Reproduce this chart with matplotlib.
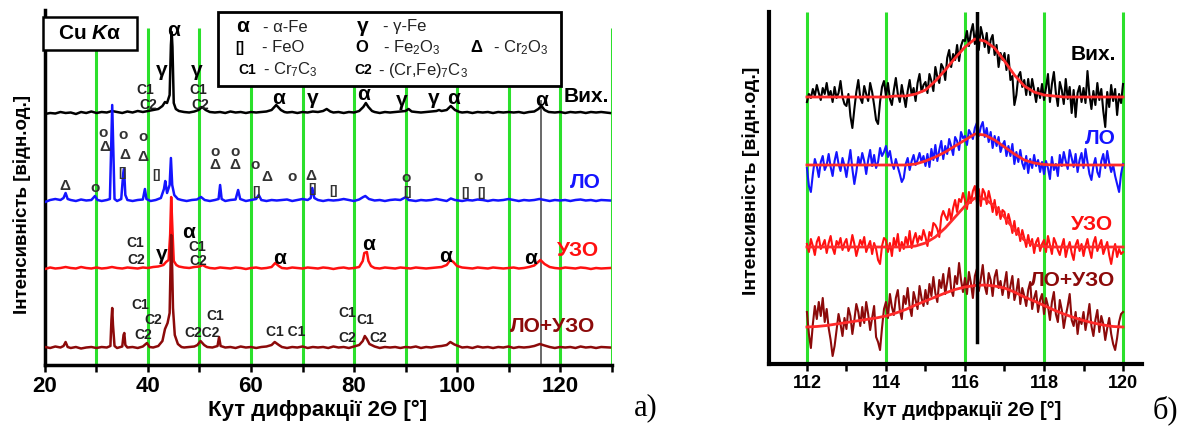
import numpy as np
import matplotlib
matplotlib.use('Agg')
import matplotlib.pyplot as plt
from matplotlib.patches import Rectangle

plt.rcParams['font.family'] = ['Liberation Sans', 'DejaVu Sans']
plt.rcParams['mathtext.fontset'] = 'custom'
plt.rcParams['mathtext.rm'] = 'Liberation Sans'
plt.rcParams['mathtext.it'] = 'Liberation Sans:italic:bold'
plt.rcParams['mathtext.bf'] = 'Liberation Sans:bold'

W, H = 1185, 432
GREEN = '#2be02b'
C_VIH, C_LO, C_UZO, C_LOUZO = '#000000', '#1414ff', '#ff1010', '#8c0a0a'
C_FIT = '#ff2a2a'

# ---------------- panel a: full patterns (2theta, intensity, offset units) ----
vih_a = [(20, 251), (21, 252), (22, 251.5), (23, 253), (24, 252), (25, 252.5), (26, 251),
         (27, 253), (28, 252), (29, 253.5), (30, 252), (31, 253), (32, 252.5), (33, 254),
         (34, 253), (35, 252), (36, 253.5), (37, 252.5), (38, 254), (39, 253), (40, 254),
         (41, 255), (42, 256), (42.8, 259), (43.3, 263), (43.7, 262), (44.2, 270),
         (44.45, 320), (44.6, 333), (44.75, 318), (45.0, 262), (45.4, 256), (46, 254),
         (47, 253), (48, 252.5), (49, 253.5), (49.8, 255), (50.5, 258), (51.2, 255),
         (52, 253), (53, 252.5), (54, 253), (55, 252), (56, 253.5), (57, 252.5), (58, 253),
         (59, 252), (60, 253), (61, 252.5), (62, 253), (63, 253.5), (64, 255), (64.9, 260),
         (65.8, 255), (66.5, 253), (67, 252.5), (68, 253), (69, 252), (70, 253), (71, 252.5),
         (72, 253.5), (73, 253), (74, 254), (74.7, 256), (75.4, 253.5), (76, 252.5), (77, 253),
         (78, 252), (79, 253), (80, 252.5), (81, 254), (81.8, 258), (82.3, 262), (82.8, 258),
         (83.5, 254), (84, 253), (85, 252), (86, 253), (87, 252.5), (88, 253), (89, 253.5),
         (90, 254), (90.6, 256), (91.2, 253.5), (92, 253), (93, 252.5), (94, 253), (95, 253.5),
         (96, 254), (96.5, 255), (97, 254), (98, 255), (98.8, 259), (99.6, 255), (100.5, 253),
         (101, 252.5), (102, 253), (103, 252), (104, 253), (105, 252.5), (106, 253), (107, 252),
         (108, 253), (109, 252.5), (110, 253), (111, 252.5), (112, 253), (113, 252), (114, 253),
         (115, 253.5), (115.8, 256), (116.4, 259), (117, 255), (117.8, 253), (119, 252.5),
         (120, 253), (121, 252), (122, 253), (123, 252.5), (124, 253), (125, 252), (126, 253),
         (127, 252.5), (128, 253), (129.7, 252)]

lo_a = [(20, 163), (21, 165), (22, 166), (23, 165), (23.6, 167), (24.0, 172), (24.4, 166),
        (25, 165), (26, 164), (27, 165.5), (28, 164.5), (29, 165), (29.7, 169), (30.2, 165),
        (31, 164), (32, 165), (32.6, 166), (32.9, 230), (33.05, 260), (33.2, 228), (33.5, 166),
        (34, 164), (34.8, 166), (35.2, 192), (35.35, 196), (35.6, 170), (36, 165), (37, 164),
        (38, 165), (39, 165.5), (39.4, 176), (39.7, 166), (40.5, 164), (41.5, 165), (42.5, 167),
        (43.1, 176), (43.35, 184), (43.7, 172), (44.2, 180), (44.45, 207), (44.7, 180),
        (45.1, 170), (45.8, 166), (46.5, 165), (47.5, 164), (48.5, 165), (49.5, 165.5),
        (50.3, 168), (51, 165), (52, 164), (53, 165), (53.7, 166), (54.0, 180), (54.3, 166),
        (55, 164), (56, 165), (57, 165.5), (57.5, 175), (57.9, 166), (59, 164), (60, 165),
        (61, 166), (61.5, 170), (62, 165), (63, 164), (64, 165), (65, 164.5), (66, 165),
        (67, 165.5), (68, 164), (69, 165), (70, 166), (71, 165), (71.6, 167), (71.9, 177),
        (72.3, 167), (73, 165), (74, 164), (75, 165), (76, 164.5), (77, 165), (78, 166),
        (79, 165), (80, 164), (81, 165.5), (81.8, 168), (82.2, 169), (82.9, 166), (84, 164.5),
        (85, 165), (86, 164), (87, 165), (88, 165.5), (89, 165), (90.1, 168), (90.6, 165),
        (92, 164), (93, 165), (94, 164.5), (95, 165), (96, 166), (97, 165), (98, 164),
        (98.8, 166.5), (99.6, 165), (101, 164), (102, 165), (103, 164.5), (104, 165.5),
        (105, 165), (106, 164), (107, 165), (108, 164.5), (109, 165), (110, 166), (111, 165),
        (112, 164), (113, 165), (114, 164.5), (115, 165), (116, 166), (117, 165), (118, 164),
        (119, 165), (120, 164.5), (121, 165), (122, 164), (123, 165), (124, 165.5),
        (125, 164.5), (126, 165), (127, 164), (128, 165), (129.7, 164.5)]

uzo_a = [(20, 96), (21, 97.5), (22, 96.5), (23, 97), (24, 98), (25, 97), (26, 96.5), (27, 98),
         (28, 97), (29, 96.5), (30, 97.5), (31, 96.5), (32, 97), (33, 98), (34, 97), (35, 96.5),
         (36, 97.5), (37, 97), (38, 96.5), (39, 97.5), (40, 97), (41, 98), (42, 98.5),
         (43, 100), (43.5, 103), (44.0, 105), (44.3, 130), (44.5, 168), (44.75, 135),
         (45.0, 104), (45.5, 100), (46, 98.5), (47, 97.5), (48, 97), (49, 98), (50, 98.5),
         (50.6, 100), (51.3, 98), (52, 97), (53, 96.5), (54, 97.5), (55, 97), (56, 96.5),
         (57, 97.5), (58, 97), (59, 96), (60, 97), (61, 97.5), (62, 96.5), (63, 97), (64, 98),
         (64.7, 102), (65.4, 99), (66, 97), (67, 96.5), (68, 97.5), (69, 97), (70, 96.5),
         (71, 97.5), (72, 97), (73, 96.5), (74, 97.5), (75, 97), (76, 96), (77, 97), (78, 97.5),
         (79, 96.5), (80, 97), (81, 98), (81.7, 104), (82.0, 112), (82.5, 113), (82.8, 104),
         (83.3, 99), (84, 97), (85, 96.5), (86, 97.5), (87, 97), (88, 96.5), (89, 97.5),
         (90, 97), (91, 96.5), (92, 97.5), (93, 97), (94, 96.5), (95, 97), (96, 97.5), (97, 98),
         (98, 100), (98.7, 105), (99.3, 103), (100, 99), (101, 97.5), (102, 97), (103, 96.5),
         (104, 97.5), (105, 97), (106, 96.5), (107, 97.5), (108, 97), (109, 96.5), (110, 97),
         (111, 97.5), (112, 96.5), (113, 97), (114, 98), (115, 99.5), (116.2, 105), (117, 101),
         (118, 98), (119, 97), (120, 96.5), (121, 97.5), (122, 97), (123, 96.5), (124, 97.5),
         (125, 97), (126, 96), (127, 97), (128, 96.5), (129.7, 97)]

louzo_a = [(20, 18), (21, 17), (22, 18.5), (23, 17.5), (23.6, 19), (24.0, 23), (24.4, 18),
           (25, 17), (26, 18), (27, 16.5), (28, 17.5), (29, 18), (30, 17), (31, 18), (32, 17.5),
           (32.7, 19), (32.9, 45), (33.05, 57), (33.2, 40), (33.5, 19), (34, 17), (35, 18.5),
           (35.25, 30), (35.4, 32), (35.6, 20), (36, 17.5), (37, 18), (38, 17), (39, 18.5),
           (39.8, 22), (40.3, 18), (41, 17.5), (42, 19), (42.8, 24), (43.3, 36), (43.8, 42),
           (44.2, 52), (44.35, 90), (44.5, 130), (44.7, 95), (44.85, 57), (45.2, 30),
           (45.8, 21), (46.5, 18), (47, 17.5), (48, 18), (49, 18.5), (49.6, 20), (50.2, 24),
           (50.9, 20), (51.5, 18), (52.5, 17.5), (53.5, 19), (53.8, 28), (54.1, 19), (55, 17.5),
           (56, 18), (57, 17), (58, 18.5), (59, 17.5), (60, 18), (61, 17), (62, 18), (63, 18.5),
           (64, 20), (64.6, 23), (65.4, 20), (66, 18), (67, 17), (68, 18), (69, 17.5),
           (70, 18.5), (71, 17), (72, 18), (73, 17.5), (74, 18), (75, 17), (76, 18.5),
           (77, 17.5), (78, 18), (79, 17), (80, 18.5), (81, 20), (81.7, 24), (82.1, 29),
           (82.5, 26), (83, 21), (84, 18.5), (85, 17), (86, 18), (87, 17.5), (88, 18), (89, 17),
           (90, 18), (91, 17.5), (92, 18.5), (93, 17), (94, 18), (95, 17.5), (96, 18.5),
           (97, 19), (98, 20), (98.7, 23), (99.5, 20.5), (100.5, 18.5), (101, 17.5), (102, 18),
           (103, 17), (104, 18.5), (105, 17.5), (106, 18), (107, 17), (108, 18), (109, 17.5),
           (110, 18.5), (111, 17), (112, 18), (113, 17.5), (114, 18), (115, 19), (116.1, 21),
           (117, 19.5), (118, 18), (119, 17), (120, 18), (121, 17.5), (122, 18), (123, 17),
           (124, 18.5), (125, 17.5), (126, 18), (127, 17), (128, 18), (129.7, 17.5)]

# phase marks over the peaks: (text, 2theta, height)
marks_vih = [('α', 45.0, 335), ('γ', 42.7, 295), ('γ', 49.5, 295), ('α', 65.3, 267),
             ('γ', 72.0, 266), ('α', 81.8, 271), ('γ', 89.3, 264), ('γ', 95.5, 266),
             ('α', 99.4, 266), ('α', 116.5, 264)]
carb_vih = [('C1', 39.4, 275), ('C2', 40.0, 260), ('C1', 49.7, 275), ('C2', 50.1, 260)]
marks_lo = [('Δ', 23.9, 179), ('o', 29.7, 177), ('o', 31.3, 232), ('Δ', 31.7, 218),
            ('o', 35.2, 230), ('Δ', 35.5, 210), ('[]', 35.1, 192), ('o', 39.1, 228),
            ('Δ', 39.1, 208), ('[]', 41.6, 190), ('o', 53.0, 213), ('Δ', 53.0, 200),
            ('o', 56.9, 213), ('Δ', 56.9, 200), ('o', 60.8, 200), ('Δ', 63.0, 188),
            ('[]', 61.0, 173), ('o', 67.9, 188), ('Δ', 71.6, 189), ('[]', 72.0, 176),
            ('[]', 76.0, 174), ('o', 90.1, 187), ('[]', 90.4, 173), ('[]', 101.7, 172),
            ('o', 104.1, 188), ('[]', 104.8, 172)]
marks_uzo = [('γ', 42.7, 110), ('α', 47.8, 133), ('α', 65.6, 107), ('α', 82.8, 120),
             ('α', 97.7, 108), ('α', 114.2, 107)]
carb_uzo = [('C1', 37.5, 122), ('C2', 37.8, 105), ('C1', 49.5, 118), ('C2', 49.8, 104)]
carb_louzo = [('C1', 38.4, 60), ('C2', 41.0, 45), ('C2', 39.1, 30), ('C2C2', 50.4, 32),
              ('C1', 53.0, 49), ('C1 C1', 66.8, 33), ('C1', 78.6, 52), ('C1', 82.1, 45),
              ('C2', 78.6, 27), ('C2', 84.7, 27)]

# ---------------- panel b: 112-120 deg region ----------------------------------
step_b = 0.05
vih_b = [262, 270, 266, 275, 268, 279, 271, 264, 276, 270, 281, 268, 273, 262, 277, 266, 271, 283, 267, 260,
         258, 270, 248, 236, 255, 272, 284, 266, 261, 278, 270, 263, 281, 272, 259, 244, 240, 262, 277, 283,
         268, 281, 265, 259, 274, 286, 270, 262, 279, 268, 257, 273, 284, 269, 276, 263, 281, 290, 272, 279,
         282, 271, 290, 283, 273, 297, 287, 281, 300, 296, 284, 306, 314, 297, 310, 304, 319, 303, 318, 324,
         323, 333, 318, 332, 340, 320, 334, 314, 337, 328, 317, 331, 311, 324, 329, 309, 319, 297, 311, 304,
         311, 294, 309, 284, 288, 259, 269, 288, 292, 277, 284, 269, 285, 269, 285, 274, 262, 276, 266, 280,
         264, 276, 290, 262, 280, 292, 271, 258, 282, 274, 260, 285, 265, 277, 251, 274, 247, 271, 278, 262,
         276, 261, 293, 269, 255, 273, 259, 281, 264, 275, 253, 237, 272, 257, 279, 263, 275, 249, 270, 261,
         280]
lo_b = [196, 178, 172, 190, 205, 198, 187, 202, 208, 194, 199, 210, 197, 188, 203, 212, 200, 193, 206, 198,
        187, 201, 214, 195, 180, 192, 207, 199, 211, 203, 190, 204, 214, 198, 209, 196, 202, 216, 208, 212,
        218, 207, 213, 201, 195, 205, 197, 190, 182, 186, 200, 206, 194, 203, 209, 199, 204, 211, 202, 208,
        198, 210, 197, 215, 204, 219, 203, 214, 223, 205, 218, 210, 225, 218, 209, 227, 223, 214, 232, 226,
        228, 219, 234, 230, 225, 236, 241, 228, 237, 242, 227, 236, 222, 232, 216, 228, 218, 227, 212, 219,
        223, 208, 218, 208, 220, 200, 212, 202, 214, 201, 195, 208, 191, 205, 196, 209, 198, 204, 192, 202,
        190, 203, 196, 185, 207, 194, 200, 188, 209, 198, 212, 203, 195, 214, 206, 197, 210, 192, 204, 211,
        196, 215, 202, 190, 184, 198, 206, 192, 187, 203, 210, 196, 213, 201, 192, 199, 188, 180, 172, 190,
        200]
uzo_b = [120, 112, 125, 118, 109, 122, 127, 115, 119, 124, 111, 121, 128, 116, 110, 123, 119, 126, 114, 121,
         125, 113, 118, 129, 120, 108, 116, 124, 119, 127, 112, 118, 123, 110, 121, 115, 104, 100, 118, 126,
         124, 112, 121, 108, 126, 117, 130, 113, 122, 115, 127, 119, 133, 116, 125, 131, 121, 128, 124, 134,
         127, 118, 132, 128, 141, 139, 135, 127, 147, 153, 148, 144, 155, 144, 156, 164, 152, 165, 162, 171,
         164, 155, 172, 161, 173, 178, 162, 175, 158, 175, 171, 160, 173, 164, 152, 164, 149, 157, 145, 154,
         152, 140, 150, 142, 131, 143, 129, 136, 123, 134, 126, 117, 129, 118, 125, 111, 122, 126, 113, 120,
         124, 112, 128, 119, 110, 126, 121, 114, 109, 118, 125, 107, 116, 122, 111, 104, 119, 124, 113, 120,
         108, 118, 125, 114, 106, 121, 127, 113, 119, 124, 110, 116, 122, 109, 100, 112, 120, 107, 115, 110,
         112]
louzo_b = [52, 30, 16, 40, 58, 45, 62, 48, 66, 42, 55, 36, 24, 8, 18, 34, 50, 40, 28, 46,
           35, 56, 48, 30, 44, 60, 52, 38, 57, 41, 62, 50, 34, 46, 58, 27, 22, 14, 36, 55,
           62, 46, 70, 57, 49, 66, 74, 54, 45, 68, 60, 76, 57, 48, 72, 64, 55, 78, 66, 58,
           74, 60, 80, 68, 87, 71, 62, 84, 76, 90, 70, 82, 96, 75, 68, 88, 80, 101, 84, 72,
           86, 70, 92, 81, 66, 88, 95, 73, 85, 99, 78, 70, 91, 84, 68, 87, 94, 76, 83, 69,
           80, 92, 66, 78, 88, 64, 72, 85, 60, 76, 68, 58, 74, 82, 55, 66, 73, 52, 64, 70,
           50, 66, 58, 44, 62, 72, 50, 42, 64, 54, 36, 48, 58, 70, 44, 38, 52, 30, 46, 40,
           52, 34, 46, 60, 38, 28, 44, 54, 32, 48, 40, 24, 36, 46, 30, 20, 14, 26, 42, 50,
           52]

# fitted profiles, 0.25 deg step
step_fit = 0.25
vih_fit = [267, 267, 267, 267, 267, 267, 267, 267, 267, 268, 268, 270, 274, 283, 294, 306, 317,
           325, 323, 316, 303, 289, 278, 272, 269, 268, 267, 267, 267, 267, 267, 267, 267]
lo_fit = [199] * 11 + [200, 203, 207, 212, 218, 224, 230, 229, 224, 217, 210, 204, 201, 199.5] + [199] * 8
uzo_fit = [117] * 11 + [118, 121, 127, 136, 147, 158, 166, 165, 158, 147, 134, 124, 119, 117.5] + [117] * 8
louzo_fit = [37, 37.5, 38.5, 40, 41.5, 43, 44.5, 46, 48, 51, 54.5, 59, 63, 67, 71, 74.5, 77, 78.5,
             79, 78, 76, 72, 67, 63, 58.5, 54, 50, 46.5, 43.5, 41, 39, 37.5, 37]

fig = plt.figure(figsize=(W / 100, H / 100), dpi=100)

# ── a) ─────────────────────────────────────────────
ax = fig.add_axes([45 / W, 67 / H, 566.5 / W, 355 / H])
ax.set_xlim(20, 130)
ax.set_ylim(0, 355)
ax.vlines(np.arange(30, 131, 10), 0, 337, color=GREEN, lw=2.2, zorder=1)
ax.vlines(116.25, 0, 265, color='#404040', lw=1.1, zorder=1.5)

for z, (pts, col) in enumerate([(vih_a, C_VIH), (lo_a, C_LO), (uzo_a, C_UZO), (louzo_a, C_LOUZO)]):
    xy = np.array(pts, dtype=float)
    ax.plot(xy[:, 0], xy[:, 1], color=col, lw=1.8, zorder=2 + z, solid_joinstyle='round')

for t, x, y in marks_vih + marks_uzo:
    ax.text(x, y, t, fontsize=15, fontweight='bold', ha='center', va='center', zorder=7)
for t, x, y in carb_vih + carb_uzo + carb_louzo:
    ax.text(x, y, t, fontsize=10, fontweight='bold', ha='center', va='center',
            color='#222222', zorder=7)
for t, x, y in marks_lo:
    fs = 9 if t == '[]' else 11
    ax.text(x, y, t, fontsize=fs, fontweight='bold', ha='center', va='center',
            color='#333333', zorder=7)

for t, x, y, col in [('Вих.', 125.2, 268, C_VIH), ('ЛО', 125.0, 182, C_LO),
                     ('УЗО', 123.5, 115, C_UZO), ('ЛО+УЗО', 118.6, 38, C_LOUZO)]:
    ax.text(x, y, t, fontsize=15, fontweight='bold', color=col, ha='center', va='center',
            zorder=7, clip_on=False)

# Cu K-alpha box and phase legend
ax.add_patch(Rectangle((19.6, 315), 18.3, 33, facecolor='white', edgecolor='black',
                       lw=1.8, zorder=8, clip_on=False))
ax.text(28.75, 331.5, 'Cu $K$α', fontsize=15, fontweight='bold', ha='center', va='center',
        zorder=9)
ax.add_patch(Rectangle((53.6, 279), 66.6, 74, facecolor='white', edgecolor='black',
                       lw=2, zorder=8, clip_on=False))
leg_sym = [('α', 58.3, 338, 15), ('γ', 81.6, 338, 15), ('[]', 57.9, 317, 10),
           ('O', 81.6, 317, 12), ('Δ', 103.7, 317, 12), ('C1', 59.2, 295, 10),
           ('C2', 81.7, 295, 10)]
leg_txt = [('- α-Fe', 62.3, 338), ('- γ-Fe', 85.6, 338), ('- FeO', 62.1, 317),
           ('- Fe$_2$O$_3$', 85.6, 317), ('- Cr$_2$O$_3$', 107.0, 317),
           ('- Cr$_7$C$_3$', 62.3, 295), ('- (Cr,Fe)$_7$C$_3$', 84.7, 295)]
for t, x, y, fs in leg_sym:
    ax.text(x, y, t, fontsize=fs, fontweight='bold', ha='center', va='center', zorder=9)
for t, x, y in leg_txt:
    ax.text(x, y, t, fontsize=12, ha='left', va='center', color='#222222', zorder=9)

ax.set_xticks(np.arange(20, 121, 20))
ax.set_xticks(np.arange(30, 131, 10), minor=True)
ax.set_yticks([])
ax.tick_params(axis='x', which='both', direction='out', length=5, width=1.8, pad=3,
               labelsize=16)
for lab in ax.get_xticklabels():
    lab.set_fontweight('bold')
for s in ['top', 'right']:
    ax.spines[s].set_visible(False)
for s in ['left', 'bottom']:
    ax.spines[s].set_linewidth(2.5)

fig.text(318 / W, 1 - 410 / H, 'Кут дифракції 2Θ [°]', fontsize=16, fontweight='bold',
         ha='center', va='center')
fig.text(22 / W, 1 - 204 / H, 'Інтенсивність [відн.од.]', fontsize=13.5, fontweight='bold',
         ha='center', va='center', rotation=90)
fig.text(646 / W, 1 - 408 / H, 'а)', fontsize=22, family='Liberation Serif',
         ha='center', va='center')

# ── б) ─────────────────────────────────────────────
bx = fig.add_axes([769 / W, 68 / H, 373 / W, 352 / H])
bx.set_xlim(111.04, 120.48)
bx.set_ylim(0, 352)
bx.vlines(np.arange(112, 121, 2), 0, 352, color=GREEN, lw=2.2, zorder=1)

xb = 112 + step_b * np.arange(len(vih_b))
xf = 112 + step_fit * np.arange(len(vih_fit))
for z, (data, fit, col) in enumerate([(vih_b, vih_fit, C_VIH), (lo_b, lo_fit, C_LO),
                                       (uzo_b, uzo_fit, C_UZO), (louzo_b, louzo_fit, C_LOUZO)]):
    bx.plot(xb, data, color=col, lw=1.5, zorder=2 + z)
    bx.plot(xf, fit, color=C_FIT, lw=2, zorder=6)
bx.axvline(116.3, ymin=22 / 352, ymax=1, color='black', lw=2.5, zorder=7)

for t, x, y, col in [('Вих.', 119.24, 309, C_VIH), ('ЛО', 119.42, 226, C_LO),
                     ('УЗО', 119.22, 139, C_UZO), ('ЛО+УЗО', 118.71, 84, C_LOUZO)]:
    bx.text(x, y, t, fontsize=15, fontweight='bold', color=col, ha='center', va='center',
            zorder=8)

bx.set_xticks(np.arange(112, 121, 2))
bx.set_xticks(np.arange(113, 121, 2), minor=True)
bx.set_yticks([])
bx.tick_params(axis='x', which='both', direction='out', length=5, width=1.8, pad=3,
               labelsize=13)
for lab in bx.get_xticklabels():
    lab.set_fontweight('bold')
for s in ['top', 'right']:
    bx.spines[s].set_visible(False)
for s in ['left', 'bottom']:
    bx.spines[s].set_linewidth(3)

fig.text(962 / W, 1 - 410 / H, 'Кут дифракції 2Θ [°]', fontsize=14.5, fontweight='bold',
         ha='center', va='center')
fig.text(751 / W, 1 - 181 / H, 'Інтенсивність [відн.од.]', fontsize=14, fontweight='bold',
         ha='center', va='center', rotation=90)
fig.text(1165 / W, 1 - 410 / H, 'б)', fontsize=22, family='Liberation Serif',
         ha='center', va='center')

fig.savefig('out.png', dpi=100)
